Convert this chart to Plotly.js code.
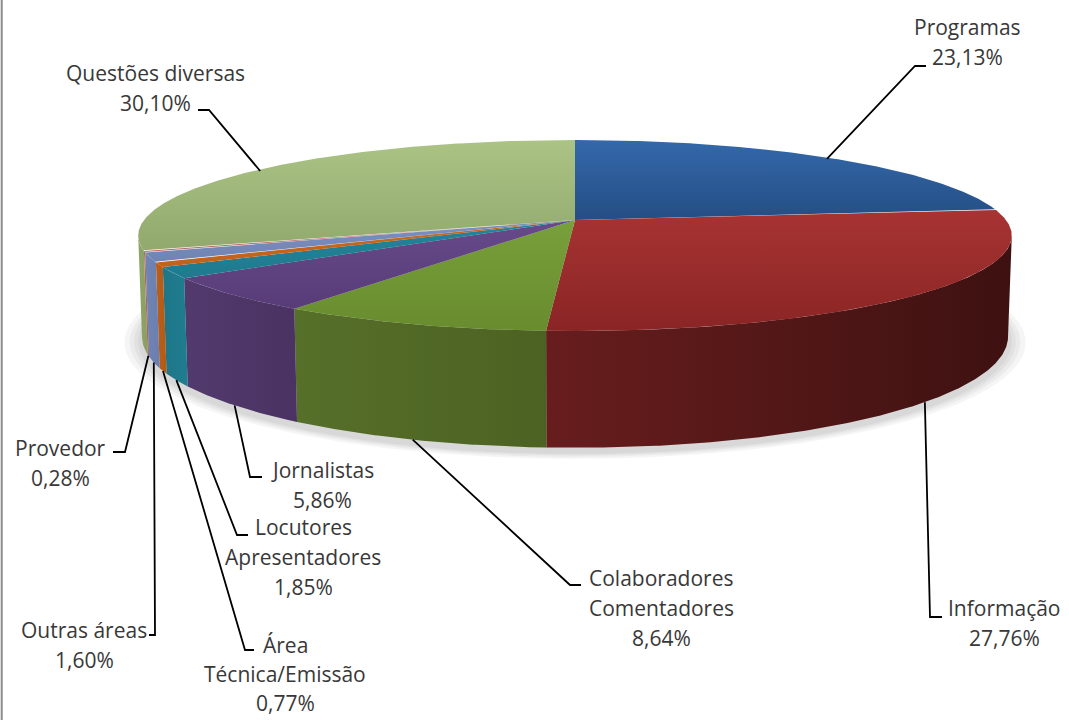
<!DOCTYPE html>
<html><head><meta charset="utf-8">
<script src="https://cdn.plot.ly/plotly-3.0.1.min.js"></script>
<style>html,body{margin:0;padding:0;background:#fff;} #chart{width:1069px;height:720px;}</style>
</head><body><div id="chart"></div>
<script>
// ---------- DATA ----------
const categories = ["Programas", "Informação", "Colaboradores Comentadores", "Jornalistas",
  "Locutores Apresentadores", "Área Técnica/Emissão", "Outras áreas", "Provedor", "Questões diversas"];
const percentages = [23.13, 27.76, 8.64, 5.86, 1.85, 0.77, 1.60, 0.28, 30.10];

// ---------- STYLE ----------
// top faces: [colour at front/bottom of screen, colour at back/top of screen]
const topColors = [["#244E84", "#3468AA"], ["#8A2525", "#A83333"], ["#688C2E", "#78A03B"],
  ["#583C78", "#674A8A"], ["#1F7A8E", "#24859B"], ["#C0621B", "#C9691F"], ["#7084B4", "#7C90C1"],
  ["#B06A68", "#C07A78"], ["#92A96D", "#ABC385"]];
const sideColors = [["#2A568E", "#1E4470"], ["#681D1D", "#3E1111"], ["#566F29", "#4C6222"],
  ["#523A6E", "#4A3262"], ["#1E7688", "#1F7D90"], ["#BA5F1A", "#B25A17"], ["#7085B5", "#6A7FAE"],
  ["#B06A68", "#A86260"], ["#8FA568", "#8AA063"]];

// label placement (pixel-like layout units), one entry per category
const labelLayout = [
  {x: 967, y: 27, wrap: false, elbow: [915, 66], end: [926, 66]},
  {x: 1004, y: 608, wrap: false, elbow: [930, 617], end: [942, 617]},
  {x: 661, y: 578, wrap: true, elbow: [570, 585], end: [581, 585]},
  {x: 322, y: 470, wrap: false, elbow: [250, 477], end: [262, 477]},
  {x: 303, y: 527, wrap: true, elbow: [237, 535], end: [248, 535]},
  {x: 285, y: 645, wrap: true, elbow: [245, 650], end: [254, 650]},
  {x: 84, y: 630, wrap: false, elbow: [155, 635], end: [149, 635]},
  {x: 60, y: 448, wrap: false, elbow: [125, 452], end: [113, 452]},
  {x: 155, y: 73, wrap: false, elbow: [209, 110], end: [198, 110]}
];
const lineStep = [30, 30, 30, 30, 30, 29, 30, 30, 30];

// ---------- 3D PROJECTION ----------
const CX = 575, CY = 220, S = 431, DIST = 6.015;
const SINA = 93 / S, COSA = Math.sqrt(1 - SINA * SINA), H = 0.237;
function P(X, Y, Z) {
  const v = Y * COSA - Z * SINA;
  const d = DIST - (Z * COSA + Y * SINA);
  return [CX + S * X * DIST / d, CY - S * v * DIST / d];
}
function rim(th, Y, r) { const t = th * Math.PI / 180; r = r || 1; return P(r * Math.sin(t), Y, -r * Math.cos(t)); }
function arc(a, b, Y, r) {
  const n = Math.max(2, Math.ceil((b - a) / 0.4)); const pts = [];
  for (let i = 0; i <= n; i++) pts.push(rim(a + (b - a) * i / n, Y, r));
  return pts;
}
const total = percentages.reduce((s, v) => s + v, 0);
const bounds = []; let acc = 0;
percentages.forEach(v => { const a = acc / total * 360; acc += v; bounds.push([a, acc / total * 360]); });
const thMin = Math.acos(-1 / (DIST * COSA)) * 180 / Math.PI, thMax = 360 - thMin;

function poly(pts, colors, type) {
  const xs = pts.map(p => p[0]), ys = pts.map(p => p[1]);
  xs.push(xs[0]); ys.push(ys[0]);
  const t = {type: 'scatter', x: xs, y: ys, mode: 'lines', fill: 'toself',
    line: {width: 0, color: 'rgba(0,0,0,0)'}, fillcolor: colors[0], hoverinfo: 'skip', showlegend: false};
  if (colors.length > 1) t.fillgradient = {type: type, colorscale: [[0, colors[0]], [1, colors[1]]]};
  return t;
}

const traces = [];
// shadow
[1.04, 1.028, 1.018, 1.009].forEach(r => {
  traces.push(poly(arc(0, 360, -H - 0.01, r), ["rgba(0,0,0,0.04)"]));
});
// sides
bounds.forEach((b, i) => {
  const a = Math.max(b[0], thMin), e = Math.min(b[1], thMax);
  if (a < e) {
    const pts = arc(a, e, 0).concat(arc(a, e, -H).reverse());
    traces.push(poly(pts, sideColors[i], 'horizontal'));
  }
});
// tops
bounds.forEach((b, i) => {
  const pts = [P(0, 0, 0)].concat(arc(b[0], b[1], 0));
  traces.push(poly(pts, topColors[i], 'vertical'));
});
// leader lines + labels
const annotations = [];
bounds.forEach((b, i) => {
  const m = (b[0] + b[1]) / 2;
  const back = Math.cos(m * Math.PI / 180) > 0;
  const anchor = back ? rim(m, 0, 0.985) : rim(m, -H);
  const L = labelLayout[i];
  traces.push({type: 'scatter', mode: 'lines', x: [anchor[0], L.elbow[0], L.end[0]],
    y: [anchor[1], L.elbow[1], L.end[1]], line: {color: '#000', width: 1.8},
    hoverinfo: 'skip', showlegend: false});
  const name = categories[i];
  let lines = L.wrap ? [name.slice(0, name.indexOf(' ')), name.slice(name.indexOf(' ') + 1)] : [name];
  lines.push(percentages[i].toFixed(2).replace('.', ',') + '%');
  lines.forEach((txt, k) => annotations.push({x: L.x, y: L.y + lineStep[i] * k, xref: 'x', yref: 'y', text: txt,
    showarrow: false, xanchor: 'center', yanchor: 'middle',
    font: {family: 'Open Sans, sans-serif', size: 21, color: '#383838'}}));
});

const layout = {
  width: 1069, height: 720, margin: {l: 0, r: 0, t: 0, b: 0},
  paper_bgcolor: '#fff', plot_bgcolor: '#fff',
  xaxis: {range: [0, 1069], visible: false, fixedrange: true},
  yaxis: {range: [720, 0], visible: false, fixedrange: true},
  annotations: annotations,
  shapes: [{type: 'line', xref: 'paper', yref: 'paper', x0: 0.0016, x1: 0.0016, y0: 0, y1: 1,
    line: {color: '#8c8c8c', width: 2}}]
};
Plotly.newPlot('chart', traces, layout, {displayModeBar: false, staticPlot: true});
</script></body></html>
